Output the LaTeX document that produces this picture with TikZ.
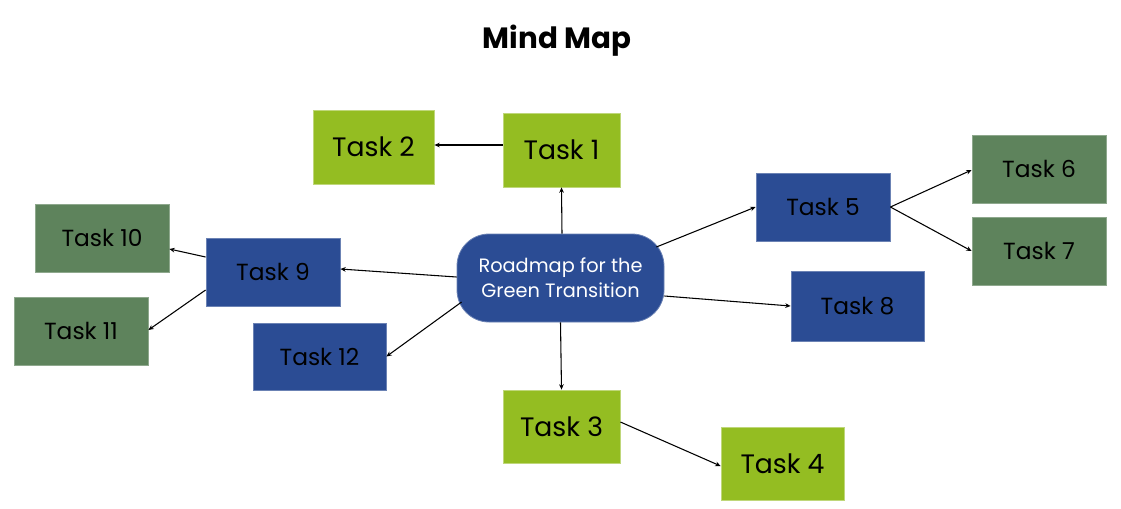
\documentclass[tikz,border=0pt]{standalone}
\usepackage{fontspec}
\setmainfont{Poppins}
\usetikzlibrary{arrows.meta,calc}
\definecolor{lime}{HTML}{94BD22}
\definecolor{navy}{HTML}{2B4C94}
\definecolor{moss}{HTML}{5E835C}
\tikzset{
  base/.style={rectangle, inner sep=0pt, line width=0.6pt, text=black},
  limebox/.style={base, fill=lime, draw=lime!60!white, font=\fontsize{20}{24}\selectfont},
  navybox/.style={base, fill=navy, draw=navy!70!white, font=\fontsize{17.5}{21}\selectfont},
  mossbox/.style={base, fill=moss, draw=moss!70!white, font=\fontsize{17.5}{21}\selectfont},
  hub/.style={rectangle, rounded corners=24pt, fill=navy, draw=navy!70!white, line width=0.6pt, text=white, align=center, font=\fontsize{14.5}{18.75}\selectfont, minimum width=155.25pt, minimum height=66pt, inner sep=0pt},
  conn/.style={line width=0.8pt, -{Stealth[length=4pt,width=3.5pt]}}
}
\begin{document}
\begin{tikzpicture}[x=0.75pt,y=-0.75pt]
\useasboundingbox (0,0) rectangle (1121,508);
\node[font=\fontsize{22}{26}\selectfont\bfseries] (title) at (557,41) {Mind Map};
\node[hub] (c) at (560.5,278) {Roadmap for the\\Green Transition};
\node[limebox, minimum width=87.75pt, minimum height=55.5pt] (t1) at (561.5,150) {Task 1};
\node[limebox, minimum width=90.75pt, minimum height=55.5pt] (t2) at (373.5,147) {Task 2};
\node[limebox, minimum width=87.75pt, minimum height=54.75pt] (t3) at (561.5,426.5) {Task 3};
\node[limebox, minimum width=92.25pt, minimum height=54.75pt] (t4) at (782.5,463.5) {Task 4};
\node[navybox, minimum width=100.5pt, minimum height=51pt] (t5) at (823,207) {Task 5};
\node[mossbox, minimum width=100.5pt, minimum height=51pt] (t6) at (1039,169) {Task 6};
\node[mossbox, minimum width=100.5pt, minimum height=51pt] (t7) at (1039,251) {Task 7};
\node[navybox, minimum width=99.75pt, minimum height=52.5pt] (t8) at (857.5,306) {Task 8};
\node[navybox, minimum width=100.5pt, minimum height=51pt] (t9) at (273,272) {Task 9};
\node[mossbox, minimum width=100.5pt, minimum height=51pt] (t10) at (102,238) {Task 10};
\node[mossbox, minimum width=100.5pt, minimum height=51pt] (t11) at (81,331) {Task 11};
\node[navybox, minimum width=99.75pt, minimum height=50.25pt] (t12) at (319.5,356.5) {Task 12};
% connectors
\draw[conn] ($(t1.west)+(0,-5)$) -- ($(t2.east)+(0,-2)$);
\draw[conn] ($(c.north)+(1.5,0)$) -- (t1.south);
\draw[conn] (c.south) -- (t3.north);
\draw[conn] ($(t3.east)+(0,-4.5)$) -- ($(t4.west)+(0,2.5)$);
\draw[conn] ($(c.east)+(-8,-31)$) -- (t5.west);
\draw[conn] (t5.east) -- ($(t6.west)+(0,1)$);
\draw[conn] (t5.east) -- (t7.west);
\draw[conn] ($(c.east)+(0,18)$) -- (t8.west);
\draw[conn] ($(c.west)+(0,-1)$) -- ($(t9.east)+(0,-3)$);
\draw[conn] ($(c.west)+(5,24)$) -- (t12.east);
\draw[conn] ($(t9.west)+(0,-15)$) -- ($(t10.east)+(0,11)$);
\draw[conn] ($(t9.west)+(0,18)$) -- ($(t11.east)+(0,-1)$);
\end{tikzpicture}
\end{document}
